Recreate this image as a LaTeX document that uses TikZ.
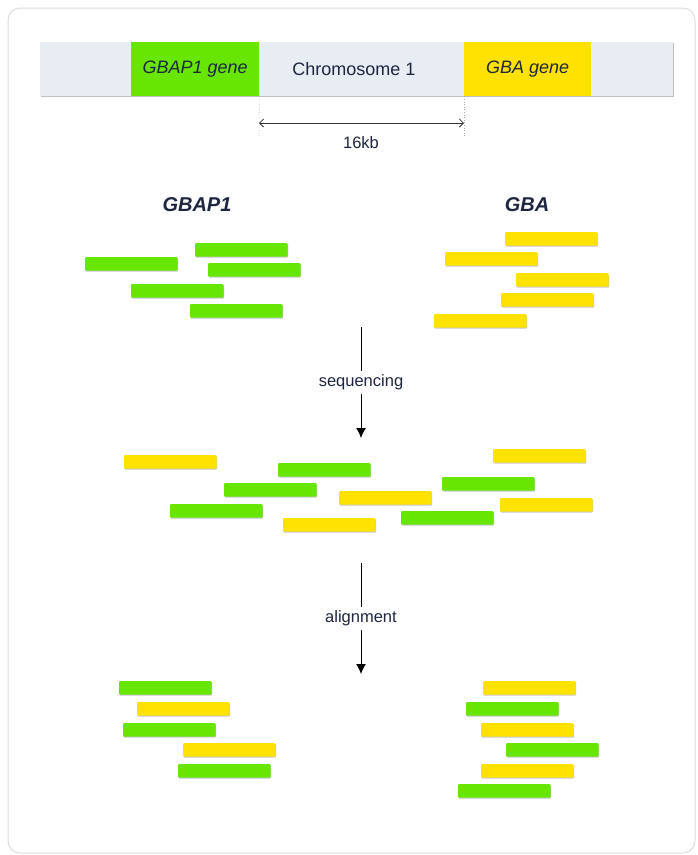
\documentclass[tikz,border=0pt]{standalone}
\usepackage{fontspec}
\setmainfont{Liberation Sans}
\usetikzlibrary{arrows.meta,shadows}
\definecolor{txt}{HTML}{1E2640}
\definecolor{grn}{HTML}{66E600}
\definecolor{ylw}{HTML}{FFE200}
\definecolor{chrom}{HTML}{E8ECF3}
\definecolor{frame}{HTML}{DDDDDD}
\tikzset{
  readbox/.style={anchor=north west, minimum width=92.5pt, minimum height=13.5pt, inner sep=0pt, outer sep=0pt, rounded corners=1pt, drop shadow={shadow xshift=0.5pt, shadow yshift=-1pt, opacity=0.22, fill=black}},
  gr/.style={readbox, fill=grn},
  ye/.style={readbox, fill=ylw},
  lab/.style={text=txt, font=\fontsize{16.5}{18}\selectfont},
  genelab/.style={text=txt, font=\fontsize{18}{20}\selectfont},
  head/.style={text=txt, font=\fontsize{20}{22}\selectfont\bfseries\itshape},
  flow/.style={draw=black, line width=1pt, -{Latex[length=10pt,width=10pt]}},
}
\begin{document}
\begin{tikzpicture}[x=1pt,y=-1pt]
\useasboundingbox (0,0) rectangle (698,855);
\fill[white] (0,0) rectangle (698,855);
\draw[frame, line width=1pt, rounded corners=12pt] (8,8) rectangle (695,853);

% chromosome
\node[anchor=north west, minimum width=633pt, minimum height=54pt, inner sep=0pt, fill=chrom,
  drop shadow={shadow xshift=0.8pt, shadow yshift=-1.2pt, opacity=0.25, fill=black}] (chr) at (40,42) {};
\node[anchor=north west, minimum width=128pt, minimum height=54pt, inner sep=0pt, fill=grn, genelab] (gbap) at (131,42) {\itshape GBAP1 gene};
\node[anchor=north west, minimum width=127pt, minimum height=54pt, inner sep=0pt, fill=ylw, genelab] (gba) at (464,42) {\itshape GBA gene};
\node[genelab] (chrlab) at (354,69) {Chromosome 1};

\coordinate (d1) at (259,137);
\coordinate (d2) at (464,137);
\draw[gray!70, dotted, line width=0.6pt] (gbap.south east) -- (d1);
\draw[gray!70, dotted, line width=0.6pt] (gba.south west) -- (d2);
\coordinate (a1) at (259,123);
\coordinate (a2) at (464,123);
\draw[black!80, line width=0.8pt, {Straight Barb[length=4pt,width=8pt]}-{Straight Barb[length=4pt,width=8pt]}] (a1) -- (a2);
\node[lab] (kb) at (361,143) {16kb};

% headings
\node[head] (h1) at (197,205) {GBAP1};
\node[head] (h2) at (527,205) {GBA};

% top left reads
\node[gr] (t1) at (195,243) {};
\node[gr] (t2) at (85,257) {};
\node[gr] (t3) at (208,263) {};
\node[gr] (t4) at (131,284) {};
\node[gr] (t5) at (190,304) {};
% top right reads
\node[ye] (u1) at (505,232) {};
\node[ye] (u2) at (445,252) {};
\node[ye] (u3) at (516,273) {};
\node[ye] (u4) at (501,293) {};
\node[ye] (u5) at (434,314) {};

% sequencing arrow
\coordinate (s1) at (361,327);
\coordinate (s2) at (361,438);
\draw[flow] (s1) -- (s2) node[midway, fill=white, lab, inner sep=4pt] (seq) {sequencing};

% mixed reads
\node[ye] (m1) at (124,455) {};
\node[gr] (m2) at (278,463) {};
\node[gr] (m3) at (224,483) {};
\node[ye] (m4) at (339,491) {};
\node[gr] (m5) at (170,504) {};
\node[ye] (m6) at (283,518) {};
\node[ye] (m7) at (493,449) {};
\node[gr] (m8) at (442,477) {};
\node[ye] (m9) at (500,498) {};
\node[gr] (m10) at (401,511) {};

% alignment arrow
\coordinate (r1) at (361,563);
\coordinate (r2) at (361,674);
\draw[flow] (r1) -- (r2) node[midway, fill=white, lab, inner sep=4pt] (aln) {alignment};

% aligned left
\node[gr] (b1) at (119,681) {};
\node[ye] (b2) at (137,702) {};
\node[gr] (b3) at (123,723) {};
\node[ye] (b4) at (183,743) {};
\node[gr] (b5) at (178,764) {};
% aligned right
\node[ye] (c1) at (483,681) {};
\node[gr] (c2) at (466,702) {};
\node[ye] (c3) at (481,723) {};
\node[gr] (c4) at (506,743) {};
\node[ye] (c5) at (481,764) {};
\node[gr] (c6) at (458,784) {};
\end{tikzpicture}
\end{document}
